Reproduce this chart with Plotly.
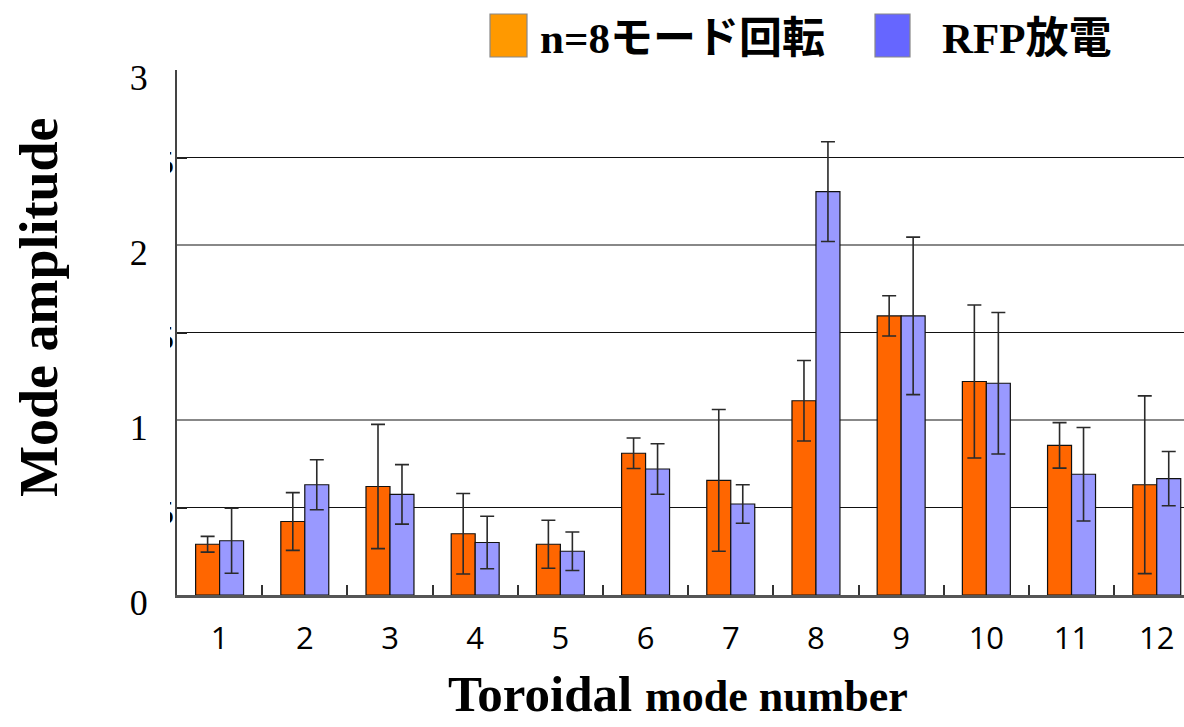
import plotly.graph_objects as go

# ---------------- data ----------------
modes = ["1", "2", "3", "4", "5", "6", "7", "8", "9", "10", "11", "12"]
rot_vals = [0.29, 0.42, 0.62, 0.35, 0.29, 0.81, 0.655, 1.11, 1.595, 1.22, 0.855, 0.63]
rot_err = [0.045, 0.165, 0.355, 0.23, 0.137, 0.087, 0.405, 0.23, 0.115, 0.437, 0.13, 0.508]
rfp_vals = [0.31, 0.63, 0.575, 0.30, 0.25, 0.72, 0.52, 2.305, 1.595, 1.21, 0.69, 0.665]
rfp_err = [0.186, 0.143, 0.17, 0.15, 0.11, 0.144, 0.11, 0.285, 0.45, 0.404, 0.267, 0.155]

legend_names = ["n=8モード回転", "RFP放電"]
y_tick_vals = [0, 1, 2, 3]
y_tick_text = ["0", "1", "2", "3"]
half_ticks = [0.5, 1.5, 2.5]

W, H = 1184, 727
L, R, T, B = 177, 0, 70, 132
PW, PH = W - L - R, H - T - B


def px(x):
    return (x - L) / PW


def py(y):
    return (H - B - y) / PH


fig = go.Figure()
fig.add_trace(go.Bar(
    x=modes, y=rot_vals, name=legend_names[0],
    marker=dict(color="#FF6600", line=dict(color="#111111", width=1.2)),
    error_y=dict(type="data", array=rot_err, visible=True, color="#2a2a2a",
                 thickness=1.6, width=7),
))
fig.add_trace(go.Bar(
    x=modes, y=rfp_vals, name=legend_names[1],
    marker=dict(color="#9999FF", line=dict(color="#111111", width=1.2)),
    error_y=dict(type="data", array=rfp_err, visible=True, color="#2a2a2a",
                 thickness=1.6, width=7),
))

serif = "Liberation Serif, Times New Roman, serif"
jp = "Liberation Serif, Noto Sans CJK JP, serif"

fig.update_layout(
    width=W, height=H,
    margin=dict(l=L, r=R, t=T, b=B, pad=0),
    paper_bgcolor="white", plot_bgcolor="white",
    showlegend=False,
    barmode="group", bargap=0.437, bargroupgap=0,
    xaxis=dict(
        type="category", range=[-0.5, 11.32],
        tickson="boundaries", ticks="inside", ticklen=10, tickwidth=1.5,
        tickcolor="#333333",
        showline=True, linecolor="#555555", linewidth=2.5,
        showgrid=False,
        tickfont=dict(family="Open Sans, DejaVu Sans, sans-serif", size=31,
                      color="black"),
        ticklabelstandoff=14,
    ),
    yaxis=dict(
        range=[0, 3],
        tickvals=y_tick_vals, ticktext=y_tick_text,
        ticks="inside", ticklen=10, tickwidth=2, tickcolor="#888888",
        showline=True, linecolor="#444444", linewidth=2,
        showgrid=True, gridcolor="#888888", gridwidth=1.6,
        zeroline=False,
        tickfont=dict(family=serif, size=36, color="black"),
        ticklabelstandoff=20, ticklabelshift=7,
        minor=dict(tickvals=half_ticks, ticks="inside", ticklen=10,
                   tickcolor="#222222", showgrid=True, gridcolor="#111111",
                   gridwidth=1.2),
    ),
)

annotations = []
# axis titles
annotations.append(dict(
    x=px(39), y=py(307), xref="paper", yref="paper",
    text="<b>Mode amplitude</b>", textangle=-90, showarrow=False,
    font=dict(family=serif, size=54, color="black"),
    xanchor="center", yanchor="middle",
))
annotations.append(dict(
    x=px(678), y=py(694), xref="paper", yref="paper",
    text="<b>Toroidal <span style='font-size:44px'>mode number</span></b>",
    showarrow=False, font=dict(family=serif, size=51, color="black"),
    xanchor="center", yanchor="middle", borderpad=0,
))
# partially hidden half-step labels
for v in half_ticks:
    ypx = H - B - v * PH / 3
    annotations.append(dict(
        x=px(176), y=py(ypx + 5), xref="paper", yref="paper",
        text="5", showarrow=False, font=dict(family=serif, size=34, color="black"),
        xanchor="right", yanchor="middle",
    ))
    annotations.append(dict(
        x=px(169.5), y=py(ypx + 5), xref="paper", yref="paper",
        text=" ", showarrow=False, bgcolor="white", width=30, height=40,
        borderpad=0, borderwidth=0,
        xanchor="right", yanchor="middle",
    ))
# custom legend texts
annotations.append(dict(
    x=px(538), y=py(38), xref="paper", yref="paper",
    text="<b>" + legend_names[0] + "</b>", showarrow=False,
    font=dict(family=jp, size=43, color="black"),
    xanchor="left", yanchor="middle",
))
annotations.append(dict(
    x=px(940), y=py(38), xref="paper", yref="paper",
    text="<b>" + legend_names[1] + "</b>", showarrow=False,
    font=dict(family=jp, size=43, color="black"),
    xanchor="left", yanchor="middle",
))

shapes = [
    dict(type="rect", xref="paper", yref="paper",
         x0=px(490), x1=px(527), y0=py(57), y1=py(14),
         fillcolor="#FF9900", line=dict(color="#888888", width=1.2)),
    dict(type="rect", xref="paper", yref="paper",
         x0=px(875), x1=px(910), y0=py(57), y1=py(14),
         fillcolor="#6666FF", line=dict(color="#888888", width=1.2)),
]

fig.update_layout(annotations=annotations, shapes=shapes)
fig.write_html("out.html")
